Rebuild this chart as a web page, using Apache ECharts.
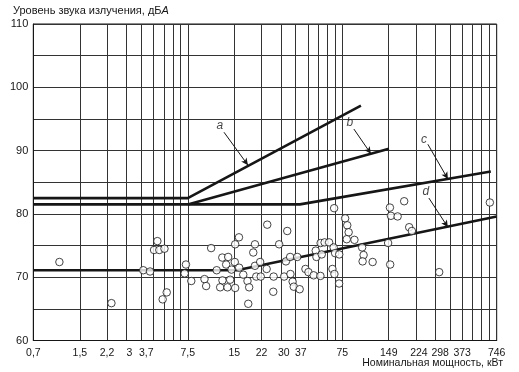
<!DOCTYPE html>
<html><head><meta charset="utf-8">
<script src="https://cdn.jsdelivr.net/npm/echarts@6/dist/echarts.min.js"></script>
<style>html,body{margin:0;padding:0;background:#fff}#c{width:519px;height:372px}</style>
</head><body><div id="c"></div>
<script>
// Vertical grid lines (kW, = 1..10, 20..100, 200..1000 hp)
const xGridValues = [0.746,1.492,2.238,2.984,3.73,4.476,5.222,5.968,6.714,7.46,
  14.92,22.38,29.84,37.3,44.76,52.22,59.68,67.14,74.6,
  149.2,223.8,298.4,373,447.6,522.2,596.8,671.4,746];
const xLabelValues = [0.746,1.492,2.238,2.984,3.73,7.46,14.92,22.38,29.84,37.3,74.6,149.2,223.8,298.4,373,746];
const xLabelTexts = ['0,7','1,5','2,2','3','3,7','7,5','15','22','30','37','75','149','224','298','373','746'];

// Measured motors: [power kW, sound level dBA]
const measured = [
 [1.10,72.4],[2.39,65.9],[3.84,71.1],[4.25,70.9],[4.51,74.3],[4.88,74.3],[5.27,74.5],[4.74,75.7],
 [5.45,67.6],[5.13,66.5],[7.26,72.0],[7.12,70.6],[7.86,69.4],
 [9.57,69.7],[9.81,68.6],[10.57,74.6],[11.48,71.1],[12.09,68.4],[12.48,73.1],[13.62,73.2],[13.22,72.0],
 [12.51,69.5],[14.03,69.6],[13.48,68.4],[14.31,71.2],[15.03,72.4],[15.12,75.2],[16.0,76.3],[16.05,71.5],
 [15.12,68.3],[17.06,70.4],[18.17,69.4],[18.63,68.4],[18.38,65.8],[19.8,73.9],[20.31,75.2],[20.31,71.8],
 [21.95,72.4],[20.71,70.1],[22.14,70.1],[24.18,71.3],[24.39,78.3],[26.83,70.1],[26.68,67.7],[29.13,75.2],
 [31.38,70.1],[32.24,72.5],[32.87,77.3],[34.32,73.2],[38.14,73.2],[34.47,70.5],[35.62,69.3],[36.21,68.5],
 [39.55,68.1],[43.11,71.3],[45.08,70.8],[48.72,70.3],[53.91,70.2],[50.27,74.2],[50.79,73.2],[54.96,73.6],
 [54.07,75.4],[57.38,75.5],[61.37,75.5],[65.63,74.7],[67.1,73.8],[71.34,73.6],[64.48,71.3],[66.42,70.5],
 [71.23,69.0],[66.13,80.9],[77.9,79.3],[80.4,78.2],[82.1,77.1],[79.8,76.0],[89.5,75.9],
 [100.4,74.7],[102.6,73.5],[101.1,72.5],[117.4,72.4],[147.9,75.4],[152.5,72.0],[151.9,81.0],[154.2,79.7],
 [170.4,79.6],[187.9,82.0],[202.5,77.9],[210.8,77.3],[316.7,70.8],[674.1,81.8]
];

// Limit lines
const lineA = [[0.7455,82.5],[7.46,82.5],[98.6,97.1]];
const lineB = [[7.46,81.5],[149.7,90.3]];
const lineC = [[0.7455,81.5],[39.7,81.5],[684,86.7]];
const lineD = [[0.7455,71.1],[15.5,71.1],[746,79.6]];

// Callouts: label position, arrow start, arrow tip
const calloutNames = ['a','b','c','d'];
const calloutLabelPos = [[12.05,93.9],[83.7,94.4],[252.1,91.8],[259.7,83.5]];
const calloutFrom = [[12.8,92.9],[88.8,93.4],[267.5,91.0],[271.6,82.5]];
const calloutTo = [[18.3,87.7],[114.4,89.5],[360.6,85.5],[360.6,77.9]];

const FONT = 'Liberation Sans, Arial, sans-serif';
const INK = '#161616';

// label nudges (printed log paper in the original is slightly irregular)
const labelStyleOf = {'3':'s1','3,7':'s2','30':'s1','37':'s2','224':'s1','298':'s2','373':'s4'};

const chart = echarts.init(document.getElementById('c'), null, {renderer:'canvas'});

function limitSeries(name, data){
  return {name, type:'line', data, symbol:'none', silent:true, z:3,
    lineStyle:{color:INK, width:2.6}, animation:false};
}

const tickBase = {fontFamily:FONT, fontSize:10.5, color:INK};

chart.setOption({
  animation:false,
  backgroundColor:'#fff',
  title:[
    {text:'{n|Уровень звука излучения, дБ}{i|А}', left:13, top:5, padding:0,
     textStyle:{fontWeight:'normal', rich:{
       n:{fontFamily:FONT,fontSize:11,fontWeight:'normal',color:INK},
       i:{fontFamily:FONT,fontSize:11,fontWeight:'normal',fontStyle:'italic',color:INK}}}},
    {text:'Номинальная мощность, кВт', right:16, top:358, padding:0,
     textStyle:{fontFamily:FONT,fontSize:10.5,fontWeight:'normal',color:INK}}
  ],
  grid:{left:33.3, right:22.3, top:24, bottom:31.5, show:true, borderColor:INK, borderWidth:1},
  xAxis:{
    type:'log', logBase:10, min:0.7455, max:746.5,
    axisLine:{show:true, lineStyle:{color:INK, width:1}},
    axisTick:{show:false, customValues:xGridValues},
    axisLabel:{customValues:xLabelValues, margin:7, fontFamily:FONT, fontSize:10.5, color:INK,
      rich:{
        s0:Object.assign({}, tickBase),
        s1:Object.assign({padding:[0,0,0,6]}, tickBase),
        s2:Object.assign({padding:[0,0,0,10]}, tickBase),
        s4:Object.assign({padding:[0,0,0,24]}, tickBase)
      },
      formatter:function(v){
        for (let i=0;i<xLabelValues.length;i++){
          if (Math.abs(Math.log10(xLabelValues[i]/v))<0.005){
            const t = xLabelTexts[i];
            return '{' + (labelStyleOf[t]||'s0') + '|' + t + '}';
          }
        }
        return '';
      }},
    splitLine:{show:true, lineStyle:{color:'#333', width:1}},
    minorSplitLine:{show:false}
  },
  yAxis:{
    type:'value', min:60, max:110, interval:5,
    axisLine:{show:true, lineStyle:{color:INK, width:1}},
    axisTick:{show:false},
    axisLabel:{margin:5, fontFamily:FONT, fontSize:11, color:INK,
      formatter:function(v){ return v%10===0 ? String(v) : ''; }},
    splitLine:{show:true, lineStyle:{color:'#333', width:1}}
  },
  series:[
    limitSeries('a', lineA), limitSeries('b', lineB), limitSeries('c', lineC), limitSeries('d', lineD),
    {name:'callouts', type:'scatter', data:calloutLabelPos.map((p,i)=>[p[0],p[1],calloutNames[i]]),
     symbolSize:0, silent:true, z:4,
     label:{show:true, position:'inside', formatter:p=>p.data[2], fontFamily:FONT, fontSize:12, fontStyle:'italic', color:INK},
     markLine:{silent:true, symbol:['none','arrow'], symbolSize:[5,7], animation:false,
       lineStyle:{color:INK, width:1, type:'solid'}, label:{show:false},
       data: calloutFrom.map((p,i)=>[{coord:p},{coord:calloutTo[i]}])}
    },
    {name:'measured', type:'scatter', data:measured, symbol:'circle', symbolSize:7.5, z:5,
     itemStyle:{color:'#fff', borderColor:INK, borderWidth:1}}
  ]
});
</script></body></html>
